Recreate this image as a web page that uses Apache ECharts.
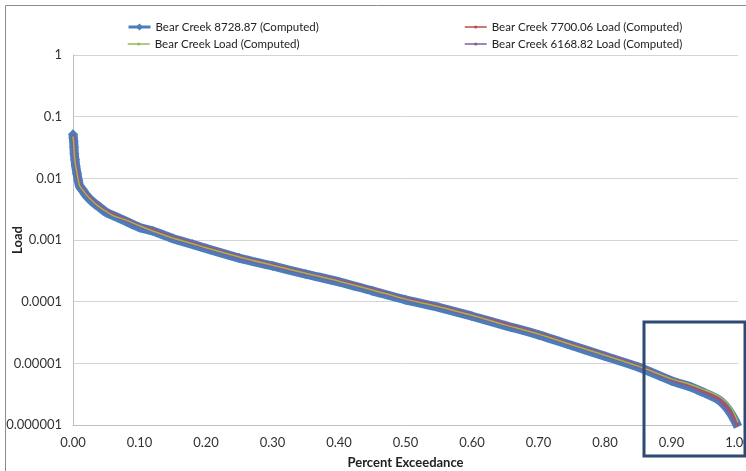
<!DOCTYPE html>
<html lang="en">

<head>
    <meta charset="UTF-8">
    <title>Bear Creek Load Duration</title>
    <script src="https://cdn.jsdelivr.net/npm/echarts@6/dist/echarts.min.js"></script>
    <style>
        html, body {
            margin: 0;
            padding: 0;
            background: #ffffff;
        }

        #chart {
            width: 746px;
            height: 471px;
        }
    </style>
</head>

<body>
    <div id="chart"></div>
    <script>
        var FONT = "Lato, 'Liberation Sans', sans-serif";

        // percent exceedance (shared by all series)
        var exceedance = [0, 0.0005, 0.001, 0.0015, 0.002, 0.003, 0.004, 0.006, 0.008, 0.01,
            0.015, 0.02, 0.03, 0.04, 0.05, 0.06, 0.08, 0.1, 0.12, 0.15,
            0.18, 0.2, 0.25, 0.3, 0.35, 0.4, 0.45, 0.5, 0.55, 0.6,
            0.65, 0.7, 0.75, 0.8, 0.85, 0.9, 0.93, 0.95, 0.97, 0.98,
            0.99, 0.995, 1.0];

        var load8728 = [0.052, 0.045, 0.04, 0.032, 0.025, 0.02, 0.016, 0.012, 0.0092, 0.0075,
            0.0063, 0.0053, 0.0041, 0.0034, 0.0028, 0.0025, 0.002, 0.0016, 0.0014, 0.00106,
            0.00085, 0.00073, 0.00051, 0.00038, 0.00028, 0.00021, 0.00015, 0.000107, 0.000081, 0.000058,
            0.000041, 0.000029, 0.0000195, 0.000013, 0.0000087, 0.0000052, 0.0000041, 0.0000033, 0.0000026, 0.0000021,
            0.0000015, 0.0000012, 0.00000093];

        var load7700 = [0.05, 0.044, 0.038, 0.031, 0.025, 0.02, 0.0165, 0.0125, 0.0095, 0.0078,
            0.0065, 0.0055, 0.0043, 0.0035, 0.0029, 0.0026, 0.0021, 0.0017, 0.00145, 0.0011,
            0.00089, 0.00077, 0.00054, 0.0004, 0.00029, 0.00022, 0.000158, 0.000112, 0.000085, 0.000061,
            0.000043, 0.0000305, 0.0000205, 0.0000137, 0.0000091, 0.0000055, 0.0000043, 0.0000035, 0.0000027, 0.0000022,
            0.0000016, 0.0000013, 0.00000098];

        var loadBase = [0.048, 0.043, 0.037, 0.03, 0.024, 0.019, 0.016, 0.0122, 0.0093, 0.0076,
            0.0064, 0.0054, 0.0042, 0.0034, 0.0029, 0.0025, 0.0021, 0.0017, 0.0014, 0.00108,
            0.00087, 0.00075, 0.00053, 0.00039, 0.00029, 0.000215, 0.000155, 0.00011, 0.000083, 0.00006,
            0.000042, 0.00003, 0.00002, 0.0000135, 0.000009, 0.0000056, 0.0000045, 0.0000037, 0.000003, 0.0000025,
            0.0000019, 0.0000015, 0.0000011];

        var load6168 = [0.051, 0.046, 0.04, 0.032, 0.026, 0.021, 0.017, 0.013, 0.0097, 0.0079,
            0.0066, 0.0056, 0.0043, 0.0035, 0.0029, 0.0026, 0.0021, 0.0017, 0.00145, 0.0011,
            0.00088, 0.00076, 0.00053, 0.00039, 0.00029, 0.000217, 0.000156, 0.000111, 0.000084, 0.00006,
            0.000043, 0.00003, 0.0000203, 0.0000136, 0.000009, 0.0000055, 0.0000043, 0.0000034, 0.0000027, 0.0000021,
            0.0000015, 0.0000012, 0.00000095];

        var yTickLabels = ['0.000001', '0.00001', '0.0001', '0.001', '0.01', '0.1', '1'];

        function pairs(ys) {
            return exceedance.map(function (x, i) { return [x, ys[i]]; });
        }

        var seriesDefs = [
            { name: 'Bear Creek 8728.87 (Computed)', color: '#4A7EBB', data: load8728, width: 9, symbol: 'diamond', size: 10, show: true, z: 1 },
            { name: 'Bear Creek 6168.82 Load (Computed)', color: '#7D60A0', data: load6168, width: 4.5, symbol: 'circle', size: 3, show: false, z: 2 },
            { name: 'Bear Creek 7700.06 Load (Computed)', color: '#BE4B48', data: load7700, width: 1.5, symbol: 'circle', size: 3, show: false, z: 3 },
            { name: 'Bear Creek Load (Computed)', color: '#98B954', data: loadBase, width: 1.5, symbol: 'circle', size: 3, show: false, z: 4 }
        ];

        function legendAt(name, left, top, lineW, markH) {
            return {
                data: [name],
                left: left,
                top: top,
                itemWidth: 22,
                itemHeight: markH,
                lineStyle: { width: lineW },
                textStyle: { fontFamily: FONT, fontSize: 11.5, color: '#222' },
                selectedMode: false
            };
        }

        var myChart = echarts.init(document.getElementById('chart'));

        var option = {
            animation: false,
            backgroundColor: '#ffffff',
            grid: { left: 73, right: 8, top: 55, bottom: 46, outerBoundsMode: 'none' },
            legend: [
                legendAt('Bear Creek 8728.87 (Computed)', 122, 16, 3, 9),
                legendAt('Bear Creek 7700.06 Load (Computed)', 459, 16, 1.5, 4),
                legendAt('Bear Creek Load (Computed)', 122, 33, 1.5, 4),
                legendAt('Bear Creek 6168.82 Load (Computed)', 459, 33, 1.5, 4)
            ],
            xAxis: {
                type: 'value',
                min: 0,
                max: 1,
                interval: 0.1,
                name: 'Percent Exceedance',
                nameLocation: 'middle',
                nameGap: 31,
                nameMoveOverlap: false,
                nameTextStyle: { fontFamily: FONT, fontSize: 13, fontWeight: 'bold', color: '#222' },
                axisLine: { lineStyle: { color: '#bfbfbf' } },
                axisTick: { show: false },
                splitLine: { show: false },
                axisLabel: {
                    fontFamily: FONT, fontSize: 13, color: '#333', margin: 11,
                    formatter: function (v) { return v.toFixed(2); }
                }
            },
            yAxis: {
                type: 'log',
                logBase: 10,
                min: 0.000001,
                max: 1,
                splitNumber: 6,
                name: 'Load',
                nameLocation: 'middle',
                nameGap: 49,
                nameMoveOverlap: false,
                nameTextStyle: { fontFamily: FONT, fontSize: 13, fontWeight: 'bold', color: '#222' },
                axisLine: { show: true, lineStyle: { color: '#bfbfbf' } },
                axisTick: { show: false },
                splitLine: { lineStyle: { color: '#d4d4d4' } },
                axisLabel: {
                    fontFamily: FONT, fontSize: 13, color: '#333', margin: 11,
                    formatter: function (v) {
                        var i = Math.round(Math.log10(v)) + 6;
                        return yTickLabels[i] !== undefined ? yTickLabels[i] : '';
                    }
                }
            },
            series: seriesDefs.map(function (s) {
                return {
                    name: s.name,
                    type: 'line',
                    data: pairs(s.data),
                    z: s.z,
                    smooth: 0.3,
                    symbol: s.symbol,
                    symbolSize: s.size,
                    showSymbol: s.show,
                    color: s.color,
                    itemStyle: { color: s.color },
                    lineStyle: { color: s.color, width: s.width }
                };
            }),
            graphic: [
                {
                    type: 'rect',
                    shape: { x: 5.5, y: 5.5, width: 800, height: 500 },
                    style: { fill: null, stroke: '#8c8c8c', lineWidth: 1 },
                    z: 0,
                    silent: true
                },
                {
                    type: 'rect',
                    shape: { x: 644, y: 322, width: 101, height: 134 },
                    style: { fill: null, stroke: '#2F4A72', lineWidth: 3 },
                    z: 100,
                    silent: true
                }
            ]
        };

        myChart.setOption(option);
    </script>
</body>

</html>
